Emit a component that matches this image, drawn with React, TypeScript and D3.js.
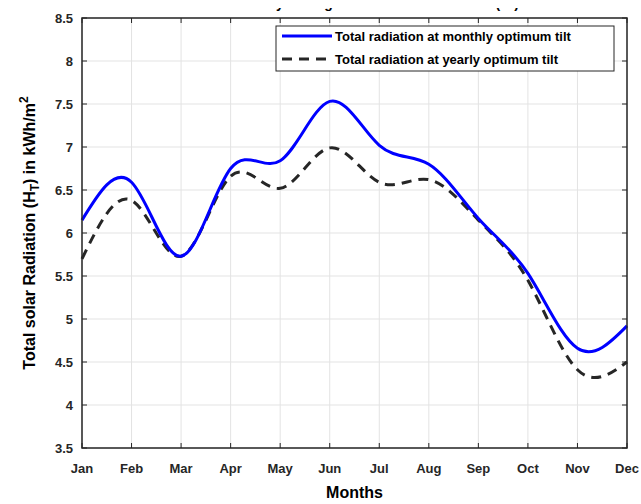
import React, { useEffect, useRef } from 'react'
import * as d3 from 'd3'

const months = ['Jan', 'Feb', 'Mar', 'Apr', 'May', 'Jun', 'Jul', 'Aug', 'Sep', 'Oct', 'Nov', 'Dec']
const monthlyTilt = [6.15, 6.59, 5.73, 6.75, 6.84, 7.53, 7.02, 6.8, 6.17, 5.53, 4.66, 4.92]
const yearlyTilt = [5.7, 6.38, 5.73, 6.66, 6.52, 6.99, 6.59, 6.62, 6.15, 5.45, 4.41, 4.5]
const yTicks = [3.5, 4, 4.5, 5, 5.5, 6, 6.5, 7, 7.5, 8, 8.5]
const seriesLabels = ['Total radiation at monthly optimum tilt', 'Total radiation at yearly optimum tilt']

function App() {
    const ref = useRef<SVGSVGElement>(null)

    useEffect(() => {
        const W = 641, H = 504
        const margin = { top: 18, right: 14, bottom: 56, left: 82 }
        const width = W - margin.left - margin.right
        const height = H - margin.top - margin.bottom
        const axisColor = '#262626'
        const font = '"Liberation Sans", Arial, sans-serif'

        const svg = d3.select(ref.current)
        svg.selectAll('*').remove()
        svg.attr('width', W).attr('height', H).style('font-family', font)

        svg.append('rect').attr('width', W).attr('height', H).attr('fill', '#fff')

        // title: the picture is cropped, only descenders of it show
        svg.append('clipPath').attr('id', 'title-clip')
            .append('rect').attr('x', 0).attr('y', 8).attr('width', W).attr('height', 10)
        svg.append('text')
            .attr('clip-path', 'url(#title-clip)')
            .attr('x', margin.left + width / 2 + 20)
            .attr('y', 8)
            .attr('text-anchor', 'middle')
            .attr('font-size', 14)
            .attr('font-weight', 'bold')
            .text('Monthly average of total solar radiation (H  )')

        const g = svg.append('g').attr('transform', `translate(${margin.left},${margin.top})`)

        const x = d3.scalePoint().domain(months).range([0, width])
        const y = d3.scaleLinear().domain([3.5, 8.5]).range([height, 0])

        // grid
        g.selectAll('.x-grid').data(months).join('line')
            .attr('class', 'x-grid')
            .attr('x1', d => x(d)!).attr('x2', d => x(d)!)
            .attr('y1', 0).attr('y2', height)
            .style('stroke', '#e3e3e3').style('stroke-width', 1)
        g.selectAll('.y-grid').data(yTicks).join('line')
            .attr('class', 'y-grid')
            .attr('y1', d => y(d)).attr('y2', d => y(d))
            .attr('x1', 0).attr('x2', width)
            .style('stroke', '#e3e3e3').style('stroke-width', 1)

        // inward ticks on all four sides
        const tickLen = 5
        months.forEach(m => {
            g.append('line').attr('x1', x(m)!).attr('x2', x(m)!).attr('y1', height).attr('y2', height - tickLen).attr('stroke', axisColor)
            g.append('line').attr('x1', x(m)!).attr('x2', x(m)!).attr('y1', 0).attr('y2', tickLen).attr('stroke', axisColor)
        })
        yTicks.forEach(t => {
            g.append('line').attr('y1', y(t)).attr('y2', y(t)).attr('x1', 0).attr('x2', tickLen).attr('stroke', axisColor)
            g.append('line').attr('y1', y(t)).attr('y2', y(t)).attr('x1', width).attr('x2', width - tickLen).attr('stroke', axisColor)
        })

        // tick labels
        g.selectAll('.x-label').data(months).join('text')
            .attr('class', 'x-label')
            .attr('x', d => x(d)!)
            .attr('y', height + 25)
            .attr('text-anchor', 'middle')
            .attr('font-size', 13).attr('font-weight', 'bold').attr('fill', axisColor)
            .text(d => d)
        g.selectAll('.y-label').data(yTicks).join('text')
            .attr('class', 'y-label')
            .attr('x', -9)
            .attr('y', d => y(d) + 5)
            .attr('text-anchor', 'end')
            .attr('font-size', 13).attr('font-weight', 'bold').attr('fill', axisColor)
            .text(d => d)

        // lines
        const line = d3.line<number>()
            .x((d, i) => x(months[i])!)
            .y(d => y(d))
            .curve(d3.curveNatural)

        g.append('path').datum(yearlyTilt)
            .attr('d', line)
            .attr('fill', 'none')
            .attr('stroke', axisColor)
            .attr('stroke-width', 3)
            .attr('stroke-dasharray', '10,7')
        g.append('path').datum(monthlyTilt)
            .attr('d', line)
            .attr('fill', 'none')
            .attr('stroke', '#0000ff')
            .attr('stroke-width', 3)

        // box
        g.append('rect').attr('width', width).attr('height', height)
            .attr('fill', 'none').attr('stroke', axisColor).attr('stroke-width', 1.5)

        // axis labels
        svg.append('text')
            .attr('x', margin.left + width / 2)
            .attr('y', H - 6)
            .attr('text-anchor', 'middle')
            .attr('font-size', 16).attr('font-weight', 'bold')
            .text('Months')

        const yl = svg.append('text')
            .attr('transform', `translate(35,${margin.top + height / 2}) rotate(-90)`)
            .attr('text-anchor', 'middle')
            .attr('font-size', 16).attr('font-weight', 'bold')
        yl.append('tspan').text('Total solar Radiation (H')
        yl.append('tspan').attr('font-size', 12).attr('dy', 4).text('T')
        yl.append('tspan').attr('dy', -4).text(') in kWh/m')
        yl.append('tspan').attr('font-size', 12).attr('dy', -7).text('2')

        // legend
        const lg = svg.append('g').attr('transform', 'translate(276,26)')
        lg.append('rect').attr('width', 338).attr('height', 45)
            .attr('fill', '#fff').attr('stroke', axisColor).attr('stroke-width', 1)
        const styles = [
            { stroke: '#0000ff', dash: null },
            { stroke: axisColor, dash: '10,7' },
        ]
        seriesLabels.forEach((label, i) => {
            const yy = 10 + i * 23
            lg.append('line').attr('x1', 6).attr('x2', 56).attr('y1', yy).attr('y2', yy)
                .attr('stroke', styles[i].stroke).attr('stroke-width', 3)
                .attr('stroke-dasharray', styles[i].dash)
            lg.append('text').attr('x', 59).attr('y', yy + 5)
                .attr('font-size', 13).attr('font-weight', 'bold')
                .text(label)
        })
    }, [])

    return (
        <svg ref={ref} style={{ position: 'absolute', left: 0, top: 0 }}></svg>
    )
}

export default App
